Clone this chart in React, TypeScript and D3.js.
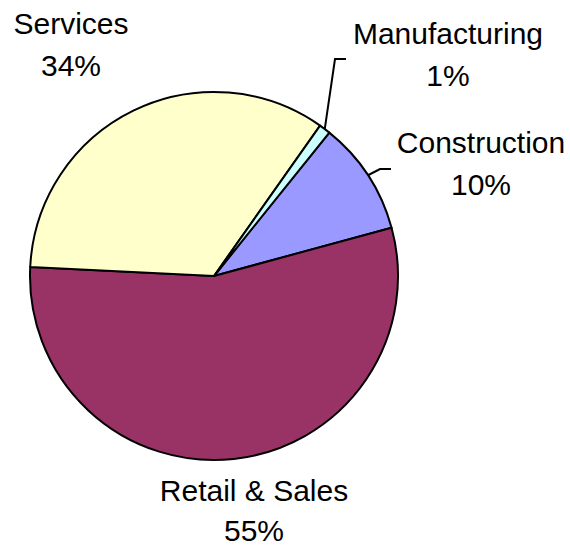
import React from 'react';
import * as d3 from 'd3';

// sector shares, in drawing order (clockwise from the first slice)
const categories = ['Construction', 'Retail & Sales', 'Services', 'Manufacturing'];
const shares = [10, 55, 34, 1];
const colors = ['#9999FF', '#993366', '#FFFFCC', '#CCFFFF'];

// label placement: [center x, first baseline, line gap]
const labelPos: Record<string, [number, number, number]> = {
  'Construction': [481, 153, 42],
  'Retail & Sales': [254, 501, 40],
  'Services': [71, 34, 42],
  'Manufacturing': [448, 44, 42],
};

// leader line bends after leaving the slice edge
const leaders: Record<string, [number, number][]> = {
  'Manufacturing': [[335, 59], [346, 59]],
  'Construction': [[380, 169], [391, 169]],
};

const W = 570;
const H = 548;
const cx = 214;
const cy = 276;
const radius = 184;
const startDeg = 38.8;

const App = () => {
  const pie = d3.pie<number>()
    .sort(null)
    .value(d => d)
    .startAngle((startDeg * Math.PI) / 180)
    .endAngle((startDeg * Math.PI) / 180 + Math.PI * 2);
  const arcs = pie(shares);
  const arc = d3.arc<d3.PieArcDatum<number>>().innerRadius(0).outerRadius(radius);
  const total = d3.sum(shares);

  return (
    <svg width={W} height={H} style={{ position: 'absolute', left: 0, top: 0, background: '#fff' }}>
      <g transform={`translate(${cx},${cy})`}>
        {arcs.map((a, i) => (
          <path key={categories[i]} d={arc(a) || ''} fill={colors[i]} stroke="#000" strokeWidth={2} strokeLinejoin="round" />
        ))}
      </g>

      {/* leader lines */}
      {arcs.map((a, i) => {
        const pts = leaders[categories[i]];
        if (!pts) return null;
        const mid = (a.startAngle + a.endAngle) / 2;
        const sx = cx + Math.sin(mid) * radius;
        const sy = cy - Math.cos(mid) * radius;
        const line = d3.line()([[sx, sy], ...pts]);
        return <path key={'l' + i} d={line || ''} fill="none" stroke="#000" strokeWidth={2} />;
      })}

      {/* labels */}
      {categories.map((c, i) => {
        const [x, y, gap] = labelPos[c];
        return (
          <text key={c} x={x} y={y} textAnchor="middle" fontFamily="'Liberation Sans', Arial, sans-serif" fontSize={30} fill="#000">
            <tspan x={x} y={y}>{c}</tspan>
            <tspan x={x} y={y + gap}>{Math.round((shares[i] / total) * 100)}%</tspan>
          </text>
        );
      })}
    </svg>
  );
};

export default App;
